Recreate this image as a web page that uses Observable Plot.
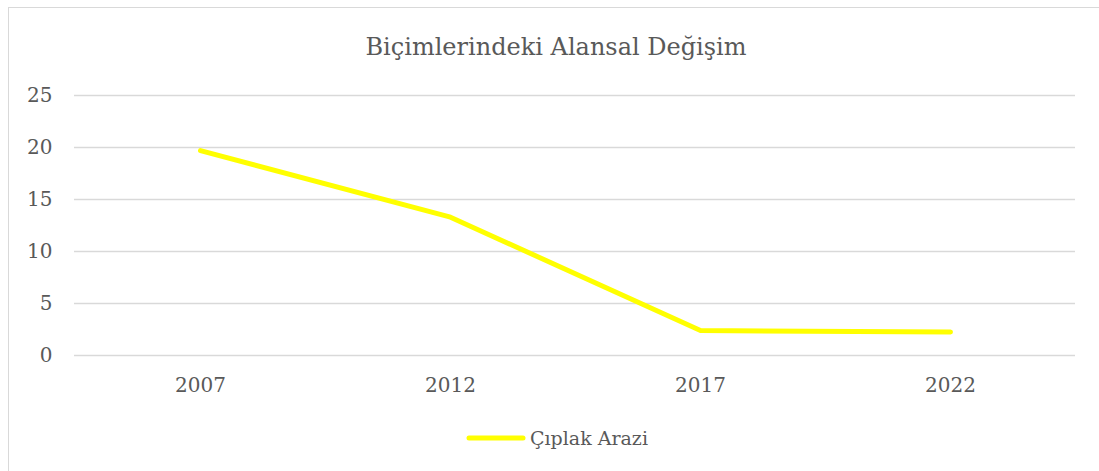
<!DOCTYPE html>
<html>
<head>
<meta charset="utf-8">
<script src="https://cdn.jsdelivr.net/npm/d3@7"></script>
<script src="https://cdn.jsdelivr.net/npm/@observablehq/plot@0.6"></script>
<style>
  html, body { margin: 0; padding: 0; background: #fff; width: 1099px; height: 471px; overflow: hidden; }
  #frame { position: absolute; left: 8px; top: 7px; width: 1200px; height: 600px; border: 1.5px solid #d9d9d9; box-sizing: border-box; }
  #title { position: absolute; left: 0; width: 1112px; top: 35px; text-align: center; font-family: "DejaVu Serif", serif; font-size: 24px; color: #595959; line-height: 1; }
  #chart { position: absolute; left: 0; top: 75px; }
  #legend { position: absolute; left: 466px; top: 427px; display: flex; align-items: center; font-family: "DejaVu Serif", serif; font-size: 19px; color: #595959; }
  #legend svg { display: block; margin-right: 4px; }
</style>
</head>
<body>
<div id="frame"></div>
<div id="title">Biçimlerindeki Alansal Değişim</div>
<div id="chart"></div>
<div id="legend"></div>
<script>
const years = ["2007", "2012", "2017", "2022"];
const ciplakArazi = [19.7, 13.3, 2.4, 2.25];
const yTicks = [0, 5, 10, 15, 20, 25];
const seriesName = "Çıplak Arazi";
const lineColor = "#ffff00";

const data = years.map((y, i) => ({year: y, value: ciplakArazi[i]}));

const plot = Plot.plot({
  width: 1099,
  height: 340,
  marginTop: 20,
  marginBottom: 60,
  marginLeft: 74,
  marginRight: 24,
  style: {fontFamily: "DejaVu Serif, serif", fontSize: "20px", color: "#595959", background: "transparent"},
  x: {type: "point", domain: years, padding: 0.5, label: null},
  y: {domain: [0, 25], label: null},
  marks: [
    Plot.ruleY(yTicks, {stroke: "#d9d9d9", strokeWidth: 1.5, strokeOpacity: 1}),
    Plot.axisY({ticks: yTicks, tickSize: 0, tickPadding: 22, label: null, fill: "#595959"}),
    Plot.axisX({tickSize: 0, tickPadding: 22, label: null, fill: "#595959"}),
    Plot.line(data, {x: "year", y: "value", stroke: lineColor, strokeWidth: 5, strokeLinecap: "round", strokeLinejoin: "round"})
  ]
});
document.getElementById("chart").appendChild(plot);

const legend = document.getElementById("legend");
const sw = d3.create("svg").attr("width", 60).attr("height", 10);
sw.append("line").attr("x1", 3).attr("x2", 57).attr("y1", 5).attr("y2", 5)
  .attr("stroke", lineColor).attr("stroke-width", 5).attr("stroke-linecap", "round");
legend.appendChild(sw.node());
const lt = document.createElement("span");
lt.textContent = seriesName;
legend.appendChild(lt);
</script>
</body>
</html>
